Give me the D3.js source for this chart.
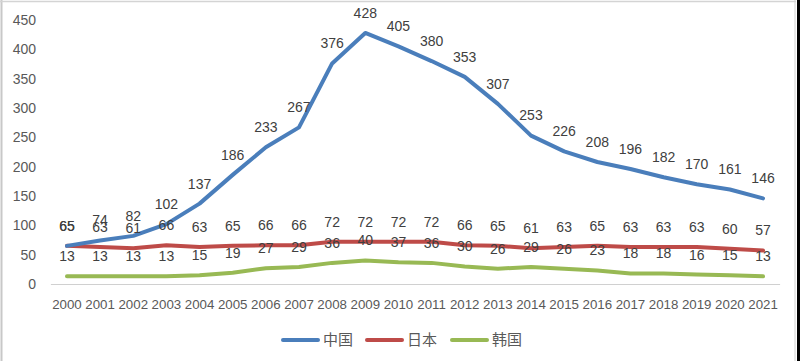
<!DOCTYPE html>
<html><head><meta charset="utf-8">
<script src="https://cdn.jsdelivr.net/npm/d3@7"></script>
<style>html,body{margin:0;padding:0;background:#fff;}svg{display:block;}</style>
</head><body>
<svg id="chart" width="800" height="361"></svg>
<script>
const years = ["2000","2001","2002","2003","2004","2005","2006","2007","2008","2009","2010","2011","2012","2013","2014","2015","2016","2017","2018","2019","2020","2021"];
const china = [65,74,82,102,137,186,233,267,376,428,405,380,353,307,253,226,208,196,182,170,161,146];
const japan = [65,63,61,66,63,65,66,66,72,72,72,72,66,65,61,63,65,63,63,63,60,57];
const korea = [13,13,13,13,15,19,27,29,36,40,37,36,30,26,29,26,23,18,18,16,15,13];
const seriesNames = ["中国","日本","韩国"];
const seriesColors = ["#4A7EBB","#BE4B48","#98B954"];
const yTicks = [0,50,100,150,200,250,300,350,400,450];

const svg = d3.select("#chart");
const font = "'Liberation Sans', Arial, sans-serif";

// frame
svg.append("rect").attr("x",0).attr("y",0).attr("width",800).attr("height",361).attr("fill","#fff");
svg.append("line").attr("x1",1.5).attr("x2",1.5).attr("y1",0).attr("y2",361).attr("stroke","#c8c8c8").attr("stroke-width",2);
svg.append("line").attr("x1",0).attr("x2",796).attr("y1",1.5).attr("y2",1.5).attr("stroke","#d4d4d4").attr("stroke-width",1.5);
svg.append("line").attr("x1",795).attr("x2",795).attr("y1",0).attr("y2",361).attr("stroke","#d0d0d0").attr("stroke-width",1);
svg.append("rect").attr("x",797).attr("y",0).attr("width",3).attr("height",361).attr("fill","#000");

const x = d3.scaleBand().domain(years).range([50.4, 779.6]).padding(0);
const cx = d => x(d) + x.bandwidth()/2;
const y = d3.scaleLinear().domain([0,450]).range([284,20]);

// y axis labels
const yAxis = d3.axisLeft(y).tickValues(yTicks).tickSize(0).tickPadding(0);
const gy = svg.append("g").attr("transform","translate(36,0)").call(yAxis);
gy.select(".domain").remove();
gy.selectAll("text").attr("font-family",font).attr("font-size",14).attr("fill","#595959");

// x axis
const xAxis = d3.axisBottom(x).tickSize(0).tickPadding(0);
const gx = svg.append("g").attr("transform","translate(0,284)").call(xAxis);
gx.select(".domain").attr("stroke","#d0d0d0").attr("stroke-width",1.2);
gx.selectAll("text").attr("font-family",font).attr("font-size",13.3).attr("fill","#595959").attr("dy","1.9em");

const all = [china, japan, korea];
const line = d3.line().x((d,i)=>cx(years[i])).y(d=>y(d));

// draw lines bottom-up so China on top
[2,1,0].forEach(k=>{
  svg.append("path").datum(all[k]).attr("d",line).attr("fill","none")
    .attr("stroke",seriesColors[k]).attr("stroke-width",4)
    .attr("stroke-linejoin","round").attr("stroke-linecap","round");
});

// data labels
all.forEach((vals,k)=>{
  svg.append("g").selectAll("text").data(vals).join("text")
    .attr("x",(d,i)=>cx(years[i])).attr("y",d=>y(d)-20)
    .attr("dy","0.35em").attr("text-anchor","middle")
    .attr("font-family",font).attr("font-size",14).attr("fill","#404040")
    .text(d=>d);
});

// legend
const legendX = [283,367,452];
const lg = svg.append("g");
seriesNames.forEach((n,k)=>{
  lg.append("line").attr("x1",legendX[k]).attr("x2",legendX[k]+35).attr("y1",340).attr("y2",340)
    .attr("stroke",seriesColors[k]).attr("stroke-width",4).attr("stroke-linecap","round");
  lg.append("text").attr("x",legendX[k]+40).attr("y",340).attr("dy","0.36em")
    .attr("font-family","'Noto Sans CJK SC', sans-serif").attr("font-size",15).attr("fill","#595959").text(n);
});
</script>
</body></html>
